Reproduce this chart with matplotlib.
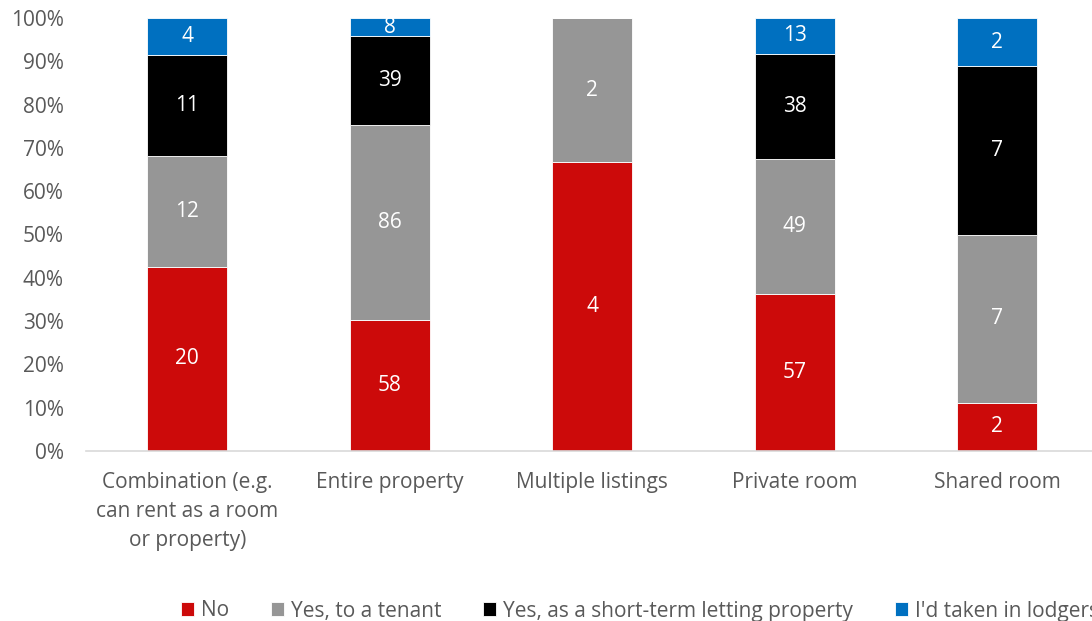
import matplotlib
matplotlib.use("Agg")
import matplotlib.pyplot as plt
import numpy as np

plt.rcParams["font.family"] = ["Open Sans", "DejaVu Sans"]

categories = ["Combination (e.g.\ncan rent as a room\nor property)", "Entire property",
              "Multiple listings", "Private room", "Shared room"]
series_names = ["No", "Yes, to a tenant", "Yes, as a short-term letting property",
                "I'd taken in lodgers"]
no_vals = [20, 58, 4, 57, 2]
tenant_vals = [12, 86, 2, 49, 7]
stl_vals = [11, 39, 0, 38, 7]
lodger_vals = [4, 8, 0, 13, 2]
colors = ["#CC0A0A", "#969696", "#000000", "#0070C0"]

TEXT = "#595959"
FS = 15

series = np.array([no_vals, tenant_vals, stl_vals, lodger_vals], dtype=float)
shares = series / series.sum(axis=0)

W, H = 1092, 621
fig = plt.figure(figsize=(W / 100, H / 100), dpi=100)
left, right, bottom, top = 86, 1098.5, 451, 18
ax = fig.add_axes([left / W, 1 - bottom / H, (right - left) / W, (bottom - top) / H])

x = np.arange(len(categories))
base = np.zeros(len(categories))
handles = []
for i, name in enumerate(series_names):
    bars = ax.bar(x, shares[i], bottom=base, width=0.395, color=colors[i],
                  edgecolor="white", linewidth=0.6, label=name)
    handles.append(bars)
    for j, b in enumerate(bars):
        v = series[i, j]
        if v > 0:
            ax.text(b.get_x() + b.get_width() / 2, base[j] + shares[i, j] / 2,
                    f"{int(v)}", ha="center", va="center", color="white", fontsize=FS)
    base += shares[i]

ax.set_xlim(-0.5, len(categories) - 0.5)
ax.set_ylim(0, 1)
ax.set_yticks(np.linspace(0, 1, 11))
ax.set_yticklabels([f"{int(round(t * 100))}%" for t in np.linspace(0, 1, 11)])
ax.set_xticks(x)
ax.set_xticklabels(categories, linespacing=1.5)
ax.tick_params(axis="both", length=0, colors=TEXT, labelsize=FS)
ax.tick_params(axis="x", pad=15)
ax.tick_params(axis="y", pad=16)
for s in ["top", "right", "left"]:
    ax.spines[s].set_visible(False)
ax.spines["bottom"].set_color("#D9D9D9")
ax.spines["bottom"].set_linewidth(1.2)

# legend runs past the right edge, as in the source image
fig.legend(handles=handles, labels=series_names, loc="center left",
           bbox_to_anchor=(162 / W, 1 - 611 / H), ncol=4, frameon=False,
           fontsize=FS, labelcolor=TEXT, handlelength=0.63, handleheight=0.63,
           handletextpad=0.34, columnspacing=2.0)

fig.savefig("out.png", dpi=100)
